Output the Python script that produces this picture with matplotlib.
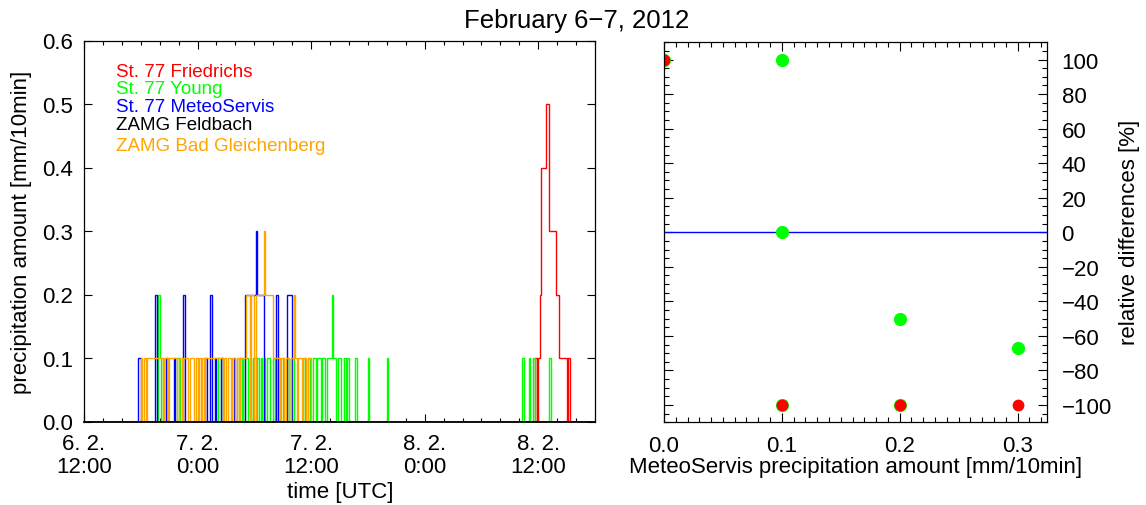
import numpy as np
import matplotlib
matplotlib.use("Agg")
import matplotlib.pyplot as plt
from matplotlib.ticker import MultipleLocator, FixedLocator

plt.rcParams['font.family'] = ['Liberation Sans', 'DejaVu Sans']

# ---------------------------------------------------------------
# 10-minute precipitation totals [mm]; slot k covers the interval
# starting k*10 min after 6 Feb 2012 12:00 UTC
# ---------------------------------------------------------------
N_SLOTS = 324          # 6 Feb 12:00 ... 8 Feb 18:00

friedrichs_slot = [286, 288, 289, 290, 291, 292, 293, 294, 295, 296, 297, 298,
                   299, 300, 301, 302, 303, 304, 305, 307]
friedrichs_mm = [0.1, 0.1, 0.2, 0.4, 0.4, 0.4, 0.5, 0.5, 0.3, 0.3, 0.3, 0.3,
                 0.2, 0.2, 0.1, 0.1, 0.1, 0.1, 0.1, 0.1]

young_slot = [47, 48, 50, 59, 60, 85, 86, 98, 100, 102, 103, 105, 107, 108, 110,
              112, 114, 116, 117, 120, 123, 126, 129, 131, 132, 139, 142, 145,
              146, 148, 149, 151, 152, 154, 155, 156, 157, 158, 159, 161, 162,
              165, 167, 172, 180, 192, 278, 282, 285, 295]
young_mm = [0.2, 0.1, 0.1, 0.1, 0.1, 0.1, 0.1, 0.1, 0.1, 0.1, 0.1, 0.1, 0.1, 0.1,
            0.1, 0.1, 0.1, 0.1, 0.1, 0.1, 0.1, 0.1, 0.1, 0.1, 0.1, 0.1, 0.1, 0.1,
            0.1, 0.1, 0.1, 0.1, 0.1, 0.1, 0.1, 0.1, 0.2, 0.1, 0.1, 0.1, 0.1, 0.1,
            0.1, 0.1, 0.1, 0.1, 0.1, 0.1, 0.1, 0.1]

meteoservis_slot = [34, 35, 45, 52, 57, 63, 77, 80, 83, 87, 95, 102, 103, 104,
                    105, 106, 107, 108, 109, 110, 111, 112, 113, 122, 129, 130,
                    131]
meteoservis_mm = [0.1, 0.1, 0.2, 0.1, 0.1, 0.2, 0.1, 0.2, 0.1, 0.1, 0.1, 0.2,
                  0.2, 0.2, 0.2, 0.2, 0.2, 0.2, 0.3, 0.2, 0.2, 0.2, 0.2, 0.2,
                  0.2, 0.2, 0.2]

feldbach_slot = []
feldbach_mm = []

gleichenberg_slot = [36, 38, 40, 41, 42, 43, 44, 45, 46, 47, 48, 49, 51, 52, 54,
                     55, 56, 57, 58, 60, 61, 63, 64, 65, 67, 68, 69, 71, 73, 75,
                     77, 78, 79, 80, 81, 82, 83, 84, 85, 86, 87, 89, 91, 92, 94,
                     95, 97, 99, 100, 101, 102, 103, 104, 106, 107, 109, 110,
                     111, 112, 113, 114, 115, 116, 117, 118, 119, 120, 121, 122,
                     123, 125, 126, 128, 129, 131, 132, 133, 134, 136, 137, 139,
                     140, 142, 143]
gleichenberg_mm = [0.1, 0.1, 0.1, 0.1, 0.1, 0.1, 0.1, 0.1, 0.1, 0.1, 0.1, 0.1,
                   0.1, 0.1, 0.1, 0.1, 0.1, 0.1, 0.1, 0.1, 0.1, 0.1, 0.1, 0.1,
                   0.1, 0.1, 0.1, 0.1, 0.1, 0.1, 0.1, 0.1, 0.1, 0.1, 0.1, 0.1,
                   0.1, 0.1, 0.1, 0.1, 0.1, 0.1, 0.1, 0.1, 0.1, 0.1, 0.1, 0.1,
                   0.1, 0.1, 0.1, 0.2, 0.2, 0.2, 0.2, 0.2, 0.2, 0.2, 0.2, 0.2,
                   0.3, 0.2, 0.2, 0.2, 0.2, 0.2, 0.1, 0.1, 0.1, 0.1, 0.1, 0.1,
                   0.1, 0.1, 0.1, 0.1, 0.2, 0.1, 0.1, 0.1, 0.1, 0.1, 0.1, 0.1]

stations = ["St. 77 Friedrichs", "St. 77 Young", "St. 77 MeteoServis",
            "ZAMG Feldbach", "ZAMG Bad Gleichenberg"]
station_colors = ["#ff0000", "#00ff00", "#0000ff", "#000000", "#ffa500"]

time_ticks_h = [0, 12, 24, 36, 48]
time_tick_labels = ["6. 2.\n12:00", "7. 2.\n0:00", "7. 2.\n12:00",
                    "8. 2.\n0:00", "8. 2.\n12:00"]

# relative differences of the St. 77 stations against MeteoServis
young_ms_mm = [0.0, 0.1, 0.1, 0.1, 0.2, 0.2, 0.3]
young_rel_diff = [100, 100, 0, -100, -50, -100, -66.7]
friedrichs_ms_mm = [0.0, 0.1, 0.2, 0.3]
friedrichs_rel_diff = [100, -100, -100, -100]

# ---------------------------------------------------------------
W, H = 1146, 506
fig = plt.figure(figsize=(W / 100, H / 100), dpi=100)
ax1 = fig.add_axes([84 / W, 1 - 422.5 / H, 511 / W, 381 / H])
ax2 = fig.add_axes([664 / W, 1 - 423.3 / H, 383 / W, 380 / H])

FS = 16
edges_h = np.arange(N_SLOTS + 1) / 6.0


def series(slots, mm):
    v = np.zeros(N_SLOTS)
    v[np.asarray(slots, dtype=int)] = mm
    return v


records = [(friedrichs_slot, friedrichs_mm), (young_slot, young_mm),
           (meteoservis_slot, meteoservis_mm), (feldbach_slot, feldbach_mm),
           (gleichenberg_slot, gleichenberg_mm)]
for (slots, mm), col in zip(records, station_colors):
    ax1.stairs(series(slots, mm), edges_h, baseline=0, color=col, lw=1.0,
               zorder=2)

ax1.set_xlim(0, 54)
ax1.set_ylim(0, 0.6)
ax1.xaxis.set_major_locator(FixedLocator(time_ticks_h))
ax1.set_xticklabels(time_tick_labels, linespacing=1.1)
ax1.xaxis.set_minor_locator(MultipleLocator(2))
ax1.yaxis.set_major_locator(MultipleLocator(0.1))
ax1.yaxis.set_major_formatter(lambda v, p: f"{v:.1f}")
ax1.tick_params(which='both', direction='in', top=True, right=True,
                width=0.8, labelsize=FS)
ax1.tick_params(which='major', length=6)
ax1.tick_params(which='minor', length=3)
ax1.tick_params(axis='x', pad=8.5)
ax1.tick_params(axis='y', pad=8)

legend_y = [0.906, 0.861, 0.814, 0.768, 0.713]
for name, col, yy in zip(stations, station_colors, legend_y):
    ax1.text(0.062, yy, name, color=col, fontsize=13.5, transform=ax1.transAxes,
             va='baseline', ha='left')

# right panel
ax2.axhline(0, color="#0000ff", lw=1.0, zorder=2)
ax2.plot(young_ms_mm, young_rel_diff, 'o', color="#00ff00", ms=8.5,
         mec="#00ff00", zorder=3)
ax2.plot(friedrichs_ms_mm, friedrichs_rel_diff, 'o', color="#ff0000", ms=7.5,
         mec="#ff0000", zorder=4)
ax2.set_xlim(0, 0.325)
ax2.set_ylim(-110, 110)
ax2.xaxis.set_major_locator(MultipleLocator(0.1))
ax2.xaxis.set_minor_locator(MultipleLocator(0.01))
ax2.xaxis.set_major_formatter(lambda v, p: f"{v:.1f}")
ax2.yaxis.set_major_locator(MultipleLocator(20))
ax2.yaxis.set_minor_locator(MultipleLocator(5))
ax2.tick_params(which='both', direction='in', top=True, right=True, left=True,
                labelleft=False, labelright=True, width=0.8, labelsize=FS)
ax2.tick_params(which='major', length=6.5)
ax2.tick_params(which='minor', length=3.5)
ax2.tick_params(axis='x', pad=9)
ax2.tick_params(axis='y', pad=10.5)

for ax in (ax1, ax2):
    for sp in ax.spines.values():
        sp.set_linewidth(0.9)
        sp.set_zorder(5)
ax1.spines['bottom'].set_linewidth(1.3)

fig.text(576.5 / W, 1 - 28 / H, "February 6\u22127, 2012", fontsize=18.5,
         ha='center', va='baseline')
fig.text(22 / W, 0.5415, "precipitation amount [mm/10min]", fontsize=FS,
         rotation=90, ha='center', va='center')
fig.text(340 / W, 1 - 493 / H, "time [UTC]", fontsize=FS, ha='center',
         va='center')
fig.text(855.5 / W, 1 - 468 / H, "MeteoServis precipitation amount [mm/10min]",
         fontsize=FS, ha='center', va='center')
fig.text(1129 / W, 0.5415, "relative differences [%]", fontsize=FS,
         rotation=90, ha='center', va='center')

fig.savefig("out.png", dpi=100)
